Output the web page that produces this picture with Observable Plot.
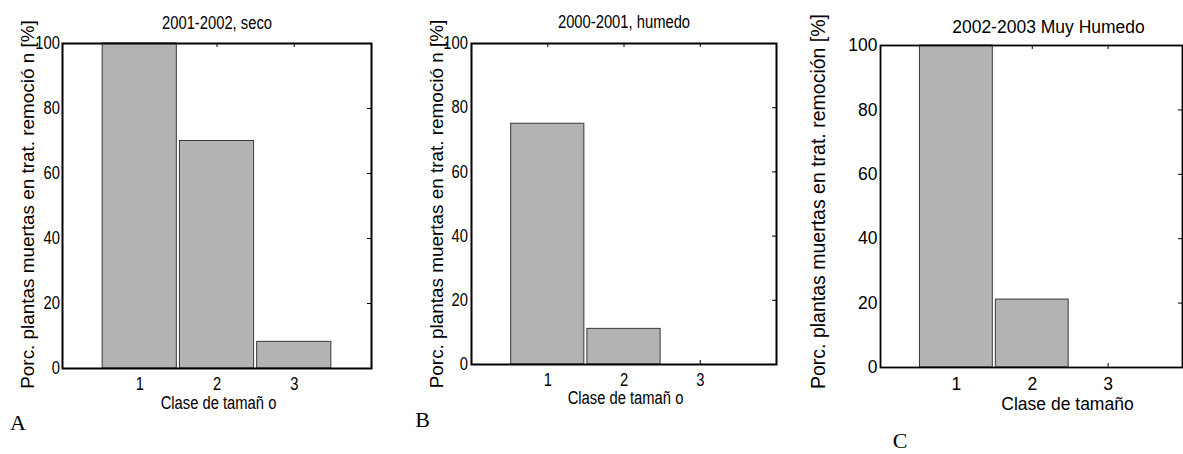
<!DOCTYPE html>
<html><head><meta charset="utf-8">
<script src="https://cdn.jsdelivr.net/npm/d3@7"></script>
<script src="https://cdn.jsdelivr.net/npm/@observablehq/plot@0.6"></script>
<style>
body{margin:0;background:#fff;}
#wrap{position:relative;width:1183px;height:454px;overflow:hidden;background:#fff;}
.panel{position:absolute;top:0;}
.letter{position:absolute;font-family:"Liberation Serif","Times New Roman",serif;line-height:1;transform:translate(-50%,-50%);color:#000;}
</style></head><body><div id="wrap"></div>
<script>
// ---- data ----
const categories = [1, 2, 3];
const yTicks = [0, 20, 40, 60, 80, 100];
const valuesA = [100, 70, 8.2];
const valuesB = [75, 11.1, 0];
const valuesC = [100, 21.1, 0];
const titles = ["2001-2002, seco", "2000-2001, humedo", "2002-2003 Muy Humedo"];
const yLabels = ["Porc. plantas muertas en trat. remoció n [%]", "Porc. plantas muertas en trat. remoció n [%]", "Porc. plantas muertas en trat. remoción [%]"];
const xLabels = ["Clase de tamañ o", "Clase de tamañ o", "Clase de tamaño"];
const panelLetters = ["A", "B", "C"];

const wrap = document.getElementById("wrap");

function panel(cfg) {
  const height = 454;
  const innerH = height - cfg.mT - cfg.mB;
  const innerW = cfg.width - cfg.mL - cfg.mR;
  const data = categories.map((c, i) => ({c, v: cfg.values[i]}));
  const svg = Plot.plot({
    width: cfg.width, height,
    marginLeft: cfg.mL, marginRight: cfg.mR, marginTop: cfg.mT, marginBottom: cfg.mB,
    x: {domain: cfg.xDomain},
    y: {domain: [0, 100]},
    style: {fontFamily: "'Liberation Sans', Arial, sans-serif", fontSize: cfg.fontSize + "px", background: "transparent", overflow: "visible", color: "black"},
    marks: [
      Plot.tickX(categories, {x: d => d, insetBottom: innerH - 4, stroke: "black"}),
      Plot.tickX(categories, {x: d => d, insetTop: innerH - 4, stroke: "black"}),
      Plot.tickY(yTicks, {y: d => d, insetLeft: innerW - 4, stroke: "black"}),
      Plot.rectY(data, {x1: d => d.c - 0.48, x2: d => d.c + 0.48, y: "v", fill: "#b3b3b3", stroke: "#383838", strokeWidth: 1}),
      Plot.frame({stroke: "black", strokeWidth: cfg.frameWidth}),
      Plot.axisX({ticks: categories, tickSize: 0, tickPadding: cfg.xTickPad, label: null, tickFormat: d => String(d)}),
      Plot.axisY({ticks: yTicks, tickSize: 0, tickPadding: cfg.yTickPad, label: null, tickFormat: d => String(d)}),
      Plot.text([cfg.title], {frameAnchor: "top", text: d => d, textAnchor: "middle", lineAnchor: "middle", dx: cfg.titleDx, dy: cfg.titleDy}),
      Plot.text([cfg.xlabel], {frameAnchor: "bottom", text: d => d, textAnchor: "middle", lineAnchor: "middle", dx: cfg.xlabDx, dy: cfg.xlabDy}),
      Plot.text([cfg.ylabel], {frameAnchor: "left", text: d => d, textAnchor: "middle", lineAnchor: "middle", rotate: -90, dx: cfg.ylabDx, dy: cfg.ylabDy, fontSize: cfg.ylabelSize})
    ]
  });
  svg.classList.add("panel");
  svg.style.left = cfg.left + "px";
  svg.style.position = "absolute";
  wrap.appendChild(svg);
  if (cfg.squeeze) {
    svg.querySelectorAll("text").forEach(t => {
      const tr = t.getAttribute("transform") || "";
      if (tr.includes("rotate")) return;
      const L = t.getComputedTextLength();
      t.setAttribute("textLength", (L * cfg.squeeze).toFixed(2));
      t.setAttribute("lengthAdjust", "spacingAndGlyphs");
    });
  }
}

panel({values: valuesA, title: titles[0], ylabel: yLabels[0], xlabel: xLabels[0],
  left: 0, width: 390, mL: 62, mR: 19, mT: 43, mB: 86, xDomain: [0, 4],
  fontSize: 18, ylabelSize: 18.9, titleDx: 0, titleDy: -20, ylabDx: -35, ylabDy: -1.5,
  xlabDx: 1.5, xlabDy: 35, xTickPad: 9, yTickPad: 2.5, frameWidth: 2, squeeze: 0.82});
panel({values: valuesB, title: titles[1], ylabel: yLabels[1], xlabel: xLabels[1],
  left: 390, width: 400, mL: 81, mR: 14, mT: 43, mB: 90, xDomain: [0, 4],
  fontSize: 18, ylabelSize: 18.9, titleDx: 0, titleDy: -21, ylabDx: -34.3, ylabDy: 0,
  xlabDx: 1.5, xlabDy: 34, xTickPad: 9, yTickPad: 3.5, frameWidth: 2, squeeze: 0.82});
panel({values: valuesC, title: titles[2], ylabel: yLabels[2], xlabel: xLabels[2],
  left: 780, width: 403, mL: 100, mR: 1, mT: 45, mB: 87, xDomain: [0, 3.98],
  fontSize: 17.5, ylabelSize: 19.5, titleDx: 17, titleDy: -18, ylabDx: -61.7, ylabDy: -5,
  xlabDx: 36, xlabDy: 36.7, xTickPad: 10, yTickPad: 3, frameWidth: 1.8, squeeze: null});

const letterPos = [[18, 423, 22], [422.5, 420, 22], [900, 441, 22]];
panelLetters.forEach((L, i) => {
  const d = document.createElement("div");
  d.className = "letter";
  d.textContent = L;
  d.style.left = letterPos[i][0] + "px";
  d.style.top = letterPos[i][1] + "px";
  d.style.fontSize = letterPos[i][2] + "px";
  wrap.appendChild(d);
});
</script></body></html>
